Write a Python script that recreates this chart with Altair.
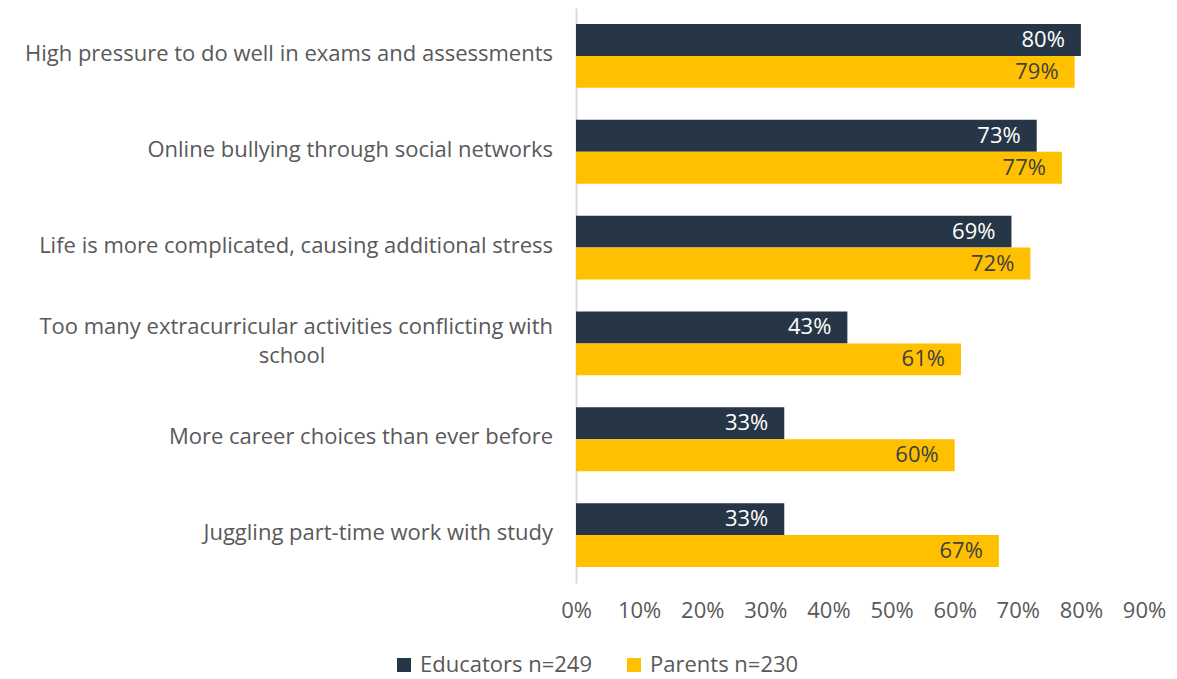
import altair as alt
import pandas as pd

categories = [
    "High pressure to do well in exams and assessments",
    "Online bullying through social networks",
    "Life is more complicated, causing additional stress",
    "Too many extracurricular activities conflicting with school",
    "More career choices than ever before",
    "Juggling part-time work with study",
]
line1 = [
    "High pressure to do well in exams and assessments",
    "Online bullying through social networks",
    "Life is more complicated, causing additional stress",
    "Too many extracurricular activities conflicting with",
    "More career choices than ever before",
    "Juggling part-time work with study",
]
line2 = ["", "", "", "school", "", ""]
series = ["Educators n=249", "Parents n=230"]
educators = [0.80, 0.73, 0.69, 0.43, 0.33, 0.33]
parents = [0.79, 0.77, 0.72, 0.61, 0.60, 0.67]
colors = ["#263646", "#FFC000"]
label_colors = ["#FFFFFF", "#404040"]
x_ticks = [0, 0.1, 0.2, 0.3, 0.4, 0.5, 0.6, 0.7, 0.8, 0.9]

FONT = "Open Sans"
FS = 22
GRAY = "#595959"

rows = []
for i, c in enumerate(categories):
    for s, vals, lc in zip(series, [educators, parents], label_colors):
        rows.append({"category": c, "series": s, "value": vals[i], "lab_color": lc})
df = pd.DataFrame(rows)

lab_rows = []
for c, l1, l2 in zip(categories, line1, line2):
    lab_rows.append({"category": c, "l1": l1, "l2": l2})
ldf = pd.DataFrame(lab_rows)

y_enc = alt.Y(
    "category:N",
    sort=categories,
    scale=alt.Scale(paddingInner=1 / 3, paddingOuter=1 / 6),
    axis=alt.Axis(labels=False, ticks=False, domain=True, domainColor="#d9d9d9",
                  domainWidth=2, grid=False, title=None),
)
y_off = alt.YOffset("series:N", sort=series, scale=alt.Scale(paddingInner=0, paddingOuter=0))
x_enc = alt.X(
    "value:Q",
    scale=alt.Scale(domain=[0, 0.9], nice=False),
    axis=alt.Axis(values=x_ticks, format=".0%", domain=False, ticks=False, grid=False,
                  labelPadding=17, labelFontSize=FS, labelColor=GRAY, labelFont=FONT,
                  labelFlush=False, labelOverlap=False, title=None),
)

bars = alt.Chart(df).mark_bar().encode(
    x=x_enc,
    y=y_enc,
    yOffset=y_off,
    color=alt.Color(
        "series:N",
        sort=series,
        scale=alt.Scale(domain=series, range=colors),
        legend=alt.Legend(
            orient="none", legendX=-183, legendY=646, direction="horizontal",
            symbolType="square", symbolSize=196, symbolStrokeWidth=0,
            labelFontSize=FS, labelColor=GRAY, labelFont=FONT, labelLimit=400,
            columnPadding=30, labelOffset=5, title=None,
        ),
    ),
)

vals = alt.Chart(df).mark_text(align="right", baseline="middle", dx=-16, fontSize=FS, font=FONT).encode(
    x="value:Q",
    y=alt.Y("category:N", sort=categories),
    yOffset=alt.YOffset("series:N", sort=series),
    text=alt.Text("value:Q", format=".0%"),
    color=alt.Color("lab_color:N", scale=None),
)

cat_single = alt.Chart(ldf).transform_filter("datum.l2 == ''").mark_text(
    align="right", baseline="middle", fontSize=FS, font=FONT, color=GRAY, dy=-2
).encode(
    x=alt.value(-23),
    y=alt.Y("category:N", sort=categories),
    text="l1:N",
)

cat_first = alt.Chart(ldf).transform_filter("datum.l2 != ''").mark_text(
    align="right", baseline="middle", fontSize=FS, font=FONT, color=GRAY, dy=-16
).encode(
    x=alt.value(-23),
    y=alt.Y("category:N", sort=categories),
    text="l1:N",
)

cat_second = alt.Chart(ldf).transform_filter("datum.l2 != ''").mark_text(
    align="center", baseline="middle", fontSize=FS, font=FONT, color=GRAY, dy=13
).encode(
    x=alt.value(-284),
    y=alt.Y("category:N", sort=categories),
    text="l2:N",
)

chart = alt.layer(bars, vals, cat_single, cat_first, cat_second).properties(
    width=568,
    height=575,
    padding={"left": 568, "top": 0, "right": 25, "bottom": 96},
    autosize=alt.AutoSizeParams(type="none"),
    background="white",
).configure_view(stroke=None)

chart.save("out.html", embed_options={"renderer": "svg", "actions": False})
